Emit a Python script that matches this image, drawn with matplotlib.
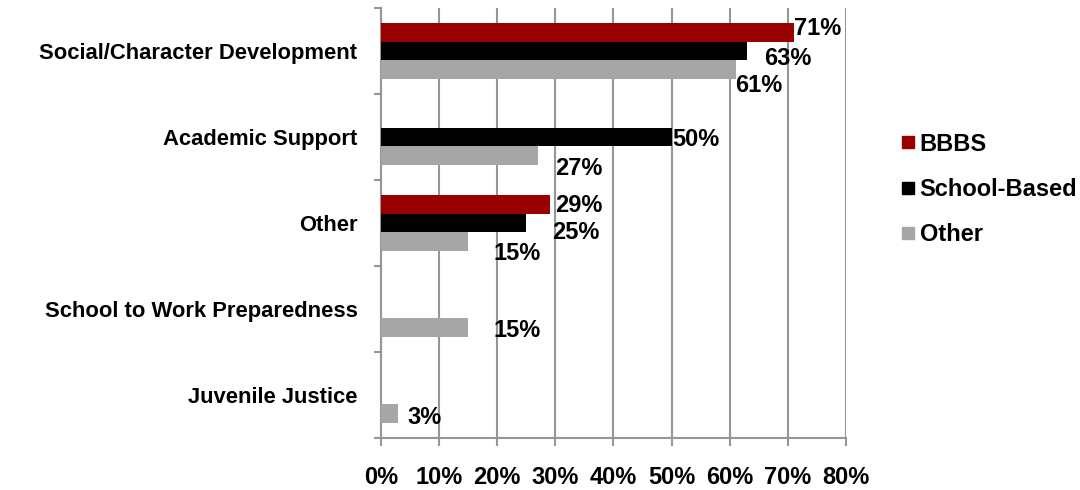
import numpy as np
import matplotlib.pyplot as plt
from matplotlib.lines import Line2D
from matplotlib.ticker import FixedLocator, FuncFormatter

categories = [
    "Social/Character Development",
    "Academic Support",
    "Other",
    "School to Work Preparedness",
    "Juvenile Justice",
]
series_names = ["BBBS", "School-Based", "Other"]
bbbs = [71, np.nan, 29, np.nan, np.nan]
school_based = [63, 50, 25, np.nan, np.nan]
other = [61, 27, 15, 15, 3]

colors = ["#990000", "#000000", "#A6A6A6"]
# label nudges in pixels (right, down) per series and category
label_nudge = [
    [(0, -4), None, (6, 1), None, None],
    [(17, 8), (1, 3), (26, 10), None, None],
    [(0, 16), (17, 13), (25, 12), (25, 3), (9, 4)],
]

plt.rcParams["font.family"] = ["Liberation Sans", "DejaVu Sans"]
plt.rcParams["font.weight"] = "bold"

fig = plt.figure(figsize=(10.8, 4.9), dpi=100)
ax = fig.add_axes([0.3528, 0.1061, 0.4305, 0.8776])

y = np.arange(len(categories))
bar_h = 0.22
offsets = [-bar_h, 0, bar_h]
grid_col = "#969696"

for vals, off, col, nudges in zip([bbbs, school_based, other], offsets, colors, label_nudge):
    ax.barh(y + off, vals, height=bar_h, color=col, zorder=3)
    for yi, v, nd in zip(y, vals, nudges):
        if np.isnan(v) or nd is None:
            continue
        ax.annotate(f"{v:.0f}%", (v, yi + off), xytext=(nd[0] * 0.72, -nd[1] * 0.72),
                    textcoords="offset points", ha="left", va="center",
                    fontsize=17, fontweight="bold", zorder=4)

ax.set_xlim(0, 80)
ax.set_ylim(len(categories) - 0.5, -0.5)
ax.set_xticks(np.arange(0, 81, 10))
ax.xaxis.set_major_formatter(FuncFormatter(lambda v, p: f"{v:.0f}%"))
ax.tick_params(axis="x", length=5.5, width=1.5, color=grid_col, pad=15, labelsize=17)
ax.grid(axis="x", color=grid_col, linewidth=1.5, zorder=0)

ax.set_yticks(y)
ax.set_yticklabels(categories)
ax.yaxis.set_minor_locator(FixedLocator(np.arange(-0.5, len(categories), 1)))
ax.tick_params(axis="y", which="major", length=0, pad=17, labelsize=15.8)
ax.tick_params(axis="y", which="minor", length=5, width=1.5, color=grid_col)

for side in ["top", "right"]:
    ax.spines[side].set_visible(False)
for side in ["left", "bottom"]:
    ax.spines[side].set_color(grid_col)
    ax.spines[side].set_linewidth(1.5)

handles = [Line2D([], [], marker="s", linestyle="none", markersize=9,
                  markerfacecolor=c, markeredgecolor=c) for c in colors]
ax.legend(handles, series_names, loc="center left", bbox_to_anchor=(1.10, 0.578),
          frameon=False, fontsize=17, handlelength=0.55, handletextpad=0.2,
          labelspacing=0.95, borderaxespad=0)

fig.savefig("out.png", dpi=100)
